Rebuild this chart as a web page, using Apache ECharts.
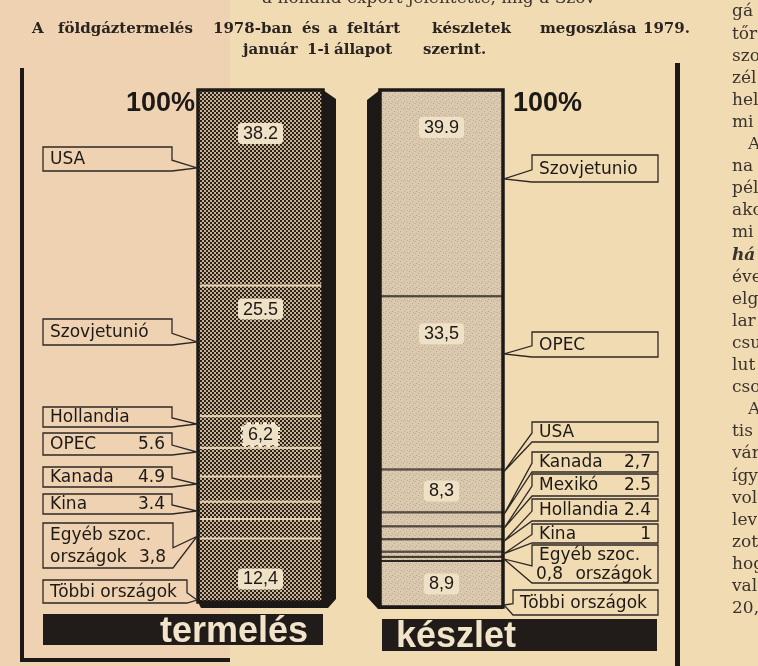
<!DOCTYPE html>
<html><head><meta charset="utf-8">
<script src="https://cdn.jsdelivr.net/npm/echarts@6/dist/echarts.min.js"></script>
<style>html,body{margin:0;padding:0;background:#f1dbb3}#c{width:758px;height:666px}</style>
</head><body><div id="c"></div>
<script>
// ---------- data ----------
const barCategories = ['termelés', 'készlet'];
const prodNames = ['USA', 'Szovjetunió', 'Hollandia', 'OPEC', 'Kanada', 'Kina', 'Egyéb szoc.\nországok', 'Többi országok'];
const prodValues = [38.2, 25.5, 6.2, 5.6, 4.9, 3.4, 3.8, 12.4];
const resNames = ['Szovjetunio', 'OPEC', 'USA', 'Kanada', 'Mexikó', 'Hollandia', 'Kina', 'Egyéb szoc.\nországok', 'Többi országok'];
const resValues = [39.9, 33.5, 8.3, 2.7, 2.5, 2.4, 1, 0.8, 8.9];
const yTickValues = [0, 100];
const yTickLabels = ['', '100%'];
const titleLine1 = 'A földgáztermelés 1978-ban és a feltárt készletek megoszlása 1979.';
const titleLine2 = 'január 1-i állapot szerint.';
const topCutText = 'a holland export jelentette, míg a Szov';
const sideColumnText = ['gá','tőr','szo','zél','hel','mi','A','na','pél','ako','mi','há','éve','elg','lar','csu','lut','cso','A','tis','vár','így','vol','lev','zot','hog','val','20,'];

// ---------- styles / layout ----------
const prodSep = ['.', '.', ',', '.', '.', '.', ',', ','];
const resSep = ['.', ',', ',', ',', '.', '.', '.', ',', ','];
const prodValueIn = ['bar', 'bar', 'bar', 'box', 'box', 'box', 'box', 'bar'];
const resValueIn = ['bar', 'bar', 'bar', 'box', 'box', 'box', 'box', 'boxLeft', 'bar'];
const prodInsideDist = [33, 13, 8, null, null, null, null, 30];
const resInsideDist = [27, 27, -1, null, null, null, null, null, -1];
const prodBoxes = [[43,147,129,24],[43,319,129,26],[43,407,129,20],[43,433,129,22],[43,467,129,20],[43,494,129,20],[43,523,130,45],[43,580,144,23]];
const resBoxes = [[532,155,126,27],[532,332,126,25],[532,422,126,20],[532,452,126,20],[532,474,126,22],[532,499,126,22],[532,524,126,19],[532,545,126,38],[513,590,145,25]];
const titleX1 = [32, 58, 213, 302, 328, 347, 432, 540, 643];
const titleX2 = [243, 307, 334, 423];
const sideItalic = [11];
const sideIndent = [6, 18];

function fmt(v, sep) { return String(v).replace('.', sep); }

function pattern(size, bg, fg, pts) {
  const c = document.createElement('canvas');
  c.width = c.height = size;
  const g = c.getContext('2d');
  g.fillStyle = bg; g.fillRect(0, 0, size, size);
  g.fillStyle = fg;
  pts.forEach(p => g.fillRect(p[0], p[1], p[2], p[2]));
  return { image: c, repeat: 'repeat' };
}
const prodFill = pattern(4, '#c9b393', '#28211c', [[0,0,2],[2,2,2]]);
const resFill = pattern(6, '#dac9ae', '#bba991', [[1,1,1],[4,3,1],[2,5,1],[5,0,1]]);

const INK = '#1d1916';
const BOXFONT = '17px "DejaVu Sans"';

function barSeries(names, values, seps, valueIn, dists, gi, fill, border) {
  const out = [];
  for (let i = names.length - 1; i >= 0; i--) {
    let label = { show: false };
    if (valueIn[i] === 'bar') {
      const d = dists[i];
      const dotted = (gi === 0 && i === 2);
      label = {
        show: true,
        position: d < 0 ? 'inside' : 'insideTop',
        distance: d < 0 ? 5 : d,
        formatter: fmt(values[i], seps[i]),
        fontFamily: 'Liberation Sans', fontSize: 18, color: INK,
        backgroundColor: '#efe1c6', padding: [2, 5, 1, 5], borderRadius: 4,
        borderColor: dotted ? '#f7eedc' : 'transparent',
        borderWidth: dotted ? 2 : 0,
        borderType: 'dotted'
      };
    }
    out.push({
      type: 'bar', name: names[i], xAxisIndex: gi, yAxisIndex: gi, stack: 's' + gi,
      barWidth: '100%', data: [values[i]], silent: true,
      itemStyle: { color: fill, borderColor: border, borderWidth: 1 },
      label
    });
  }
  return out;
}

function frameSeries(values, gi, side) {
  const total = values.reduce((a, b) => a + b, 0);
  return {
    type: 'custom', xAxisIndex: gi, yAxisIndex: gi, z: 4, silent: true,
    encode: { x: 0, y: [1, 2] }, data: [[0, 0, total]],
    renderItem(params, api) {
      const cs = params.coordSys;
      const y0 = api.coord([0, api.value(2)])[1];
      const y1 = api.coord([0, api.value(1)])[1];
      const x0 = cs.x, x1 = cs.x + cs.width;
      let sh;
      if (side === 'right') {
        sh = [[x1, y0], [x1 + 13, y0 + 9], [x1 + 13, y1 - 3], [x1 + 5, y1 + 6], [x0 + 3, y1 + 6], [x0, y1], [x1, y1]];
      } else {
        sh = [[x0, y0], [x0 - 13, y0 + 10], [x0 - 13, y1 - 10], [x0 - 2, y1 + 2], [x1, y1 + 2], [x1, y1], [x0, y1]];
      }
      return {
        type: 'group', children: [
          { type: 'polygon', shape: { points: sh }, style: { fill: INK } },
          { type: 'rect', shape: { x: x0, y: y0, width: cs.width, height: y1 - y0 },
            style: { fill: 'none', stroke: INK, lineWidth: 3.5 } }
        ]
      };
    }
  };
}

function calloutSeries(names, values, seps, valueIn, boxes, gi, side) {
  const total = values.reduce((a, b) => a + b, 0);
  let acc = total;
  const data = values.map((v, i) => { const top = acc; acc -= v; return [0, acc, top, i]; });
  return {
    type: 'custom', xAxisIndex: gi, yAxisIndex: gi, z: 5, silent: true,
    encode: { x: 0, y: [1, 2] }, data,
    renderItem(params, api) {
      const i = api.value(3);
      const segTop = api.coord([0, api.value(2)])[1];
      const segBot = api.coord([0, api.value(1)])[1];
      const cs = params.coordSys;
      const [L, T, W, H] = boxes[i];
      const R = L + W, B = T + H;
      const tipX = side === 'left' ? cs.x - 1 : cs.x + cs.width + 1;
      const tipY = Math.max(segTop + 2, Math.min(segBot - 2, B - 3));
      const pts = side === 'left'
        ? [[L, T], [R, T], [R, T + H * 0.55], [tipX, tipY], [R, B], [L, B]]
        : [[R, T], [L, T], [L, T + H * 0.55], [tipX, tipY], [L, B], [R, B]];
      const children = [{ type: 'polygon', shape: { points: pts },
        style: { fill: 'rgba(0,0,0,0)', stroke: '#2e2824', lineWidth: 1.3 } }];
      const lines = names[i].split('\n');
      const vs = fmt(values[i], seps[i]);
      lines.forEach((ln, k) => {
        const cy = T + H * (k + 0.5) / lines.length + 1;
        const last = k === lines.length - 1;
        const tx = (text, x, align) => children.push({ type: 'text',
          style: { text, x, y: cy, font: BOXFONT, fill: INK, align, verticalAlign: 'middle' } });
        if (valueIn[i] === 'boxLeft' && last) {
          tx(vs, L + 4, 'left'); tx(ln, R - 6, 'right');
        } else {
          tx(ln, L + 7, 'left');
          if (valueIn[i] === 'box' && last) tx(vs, R - 7, 'right');
        }
      });
      return { type: 'group', children };
    }
  };
}

function yAxisCfg(gi, pos, margin) {
  return {
    type: 'value', gridIndex: gi, min: yTickValues[0], max: yTickValues[1], interval: 100, position: pos,
    axisLine: { show: false }, axisTick: { show: false }, splitLine: { show: false },
    axisLabel: {
      show: true, margin, verticalAlign: 'top',
      formatter: v => yTickLabels[yTickValues.indexOf(v)] || '',
      fontFamily: 'Liberation Sans', fontWeight: 'bold', fontSize: 27, color: INK
    }
  };
}

// ---------- decorative graphics ----------
const TITLEFONT = 'bold 15px "DejaVu Serif"';
const graphics = [
  { type: 'rect', shape: { x: 0, y: 0, width: 230, height: 666 }, style: { fill: '#eed2b2' }, z: -10 },
  { type: 'text', style: { text: topCutText, x: 262, y: -1, font: '17px "DejaVu Serif"', fill: '#3a332d', verticalAlign: 'middle' } },
  { type: 'rect', shape: { x: 20, y: 68, width: 4, height: 594 }, style: { fill: INK } },
  { type: 'rect', shape: { x: 20, y: 658, width: 210, height: 4 }, style: { fill: INK } },
  { type: 'rect', shape: { x: 675, y: 63, width: 5, height: 603 }, style: { fill: INK } },
  { type: 'rect', shape: { x: 43, y: 614, width: 280, height: 31 }, style: { fill: '#211c19' } },
  { type: 'text', style: { text: barCategories[0], x: 308, y: 632, align: 'right', verticalAlign: 'middle',
      font: 'bold 36px "Liberation Sans"', fill: '#f2e4c8' } },
  { type: 'rect', shape: { x: 382, y: 619, width: 275, height: 32 }, style: { fill: '#211c19' } },
  { type: 'text', style: { text: barCategories[1], x: 396, y: 637, align: 'left', verticalAlign: 'middle',
      font: 'bold 36px "Liberation Sans"', fill: '#f2e4c8' } }
];
titleLine1.split(' ').forEach((w, k) => graphics.push({ type: 'text',
  style: { text: w, x: titleX1[k], y: 29, font: TITLEFONT, fill: '#2a2420', verticalAlign: 'middle' } }));
titleLine2.split(' ').forEach((w, k) => graphics.push({ type: 'text',
  style: { text: w, x: titleX2[k], y: 50, font: TITLEFONT, fill: '#2a2420', verticalAlign: 'middle' } }));
sideColumnText.forEach((t, k) => graphics.push({ type: 'text',
  style: { text: t, x: sideIndent.includes(k) ? 748 : 732, y: 12 + k * 22.1,
    font: (sideItalic.includes(k) ? 'italic bold ' : '') + '17px "DejaVu Serif"', fill: '#3a332d', verticalAlign: 'middle' } }));

const chart = echarts.init(document.getElementById('c'), null, { renderer: 'canvas' });
chart.setOption({
  animation: false,
  backgroundColor: '#f1dbb3',
  grid: [
    { left: 198, top: 90, width: 125, height: 512, outerBoundsMode: 'none' },
    { left: 380, top: 90, width: 123, height: 517, outerBoundsMode: 'none' }
  ],
  xAxis: [
    { type: 'category', gridIndex: 0, data: [barCategories[0]], show: false },
    { type: 'category', gridIndex: 1, data: [barCategories[1]], show: false }
  ],
  yAxis: [yAxisCfg(0, 'left', 3), yAxisCfg(1, 'right', 10)],
  graphic: { elements: graphics },
  series: [
    ...barSeries(prodNames, prodValues, prodSep, prodValueIn, prodInsideDist, 0, prodFill, '#e9d3b2'),
    ...barSeries(resNames, resValues, resSep, resValueIn, resInsideDist, 1, resFill, '#2a2420'),
    frameSeries(prodValues, 0, 'right'),
    frameSeries(resValues, 1, 'left'),
    calloutSeries(prodNames, prodValues, prodSep, prodValueIn, prodBoxes, 0, 'left'),
    calloutSeries(resNames, resValues, resSep, resValueIn, resBoxes, 1, 'right')
  ]
});
</script></body></html>
